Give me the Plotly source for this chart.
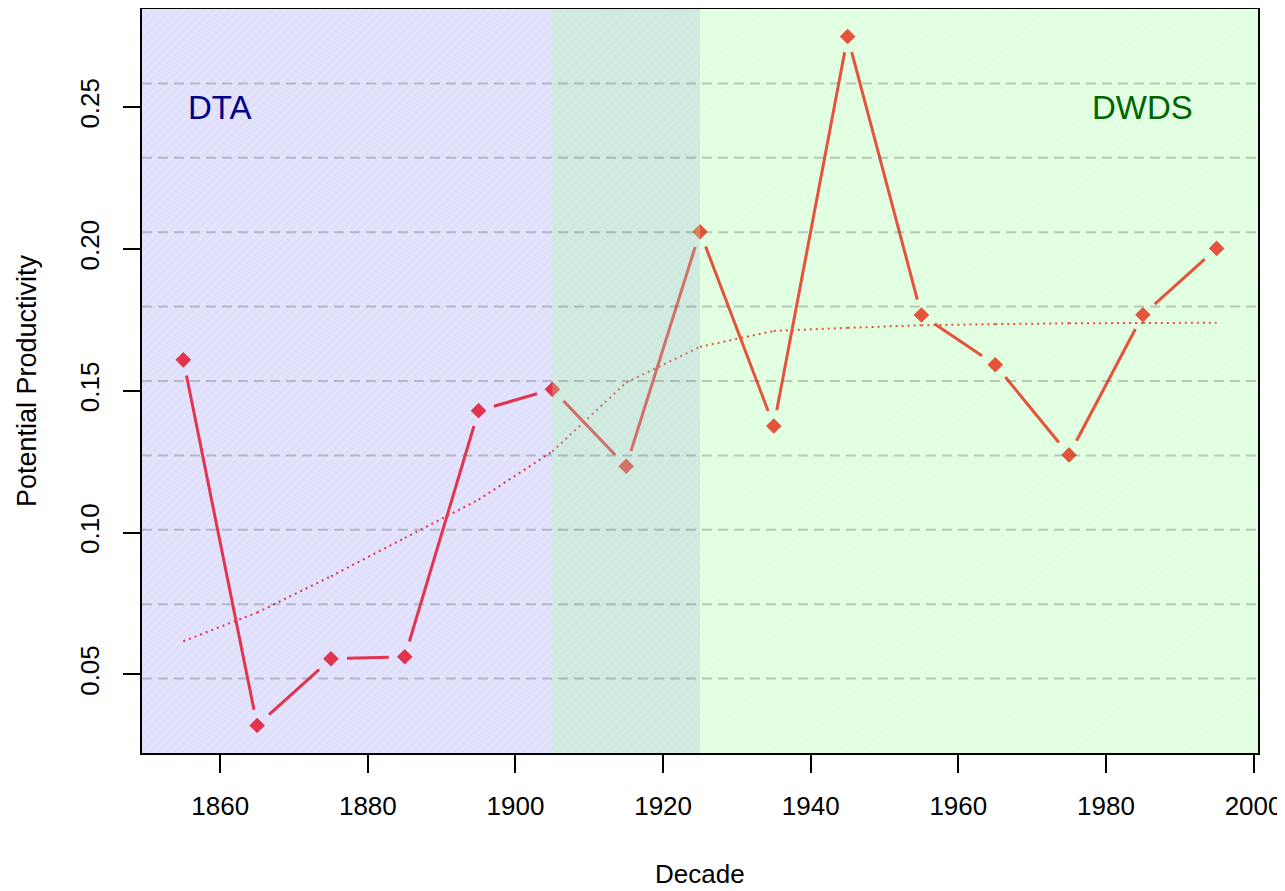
import plotly.graph_objects as go

# ---------------- data ----------------
decades = [1855, 1865, 1875, 1885, 1895, 1905, 1915, 1925, 1935, 1945, 1955, 1965, 1975, 1985, 1995]
productivity = [0.1609, 0.0320, 0.0555, 0.0562, 0.1430, 0.1505, 0.1234, 0.2061, 0.1376,
                0.2749, 0.1767, 0.1592, 0.1274, 0.1768, 0.2002]
trend = [0.0617, 0.0718, 0.0846, 0.0981, 0.1116, 0.1286, 0.1529, 0.1655, 0.1711,
         0.1722, 0.1731, 0.1735, 0.1738, 0.1739, 0.1740]
# colour group of each point / of the segment starting at it
group = ["DTA"] * 7 + ["DWDS"] * 8
x_ticks = [1860, 1880, 1900, 1920, 1940, 1960, 1980, 2000]
y_ticks = [0.05, 0.10, 0.15, 0.20, 0.25]
y_tick_labels = ["0.05", "0.10", "0.15", "0.20", "0.25"]
regions = {"DTA": (None, 1925), "DWDS": (1925, None)}
overlap = (1905, 1925)
corpus_labels = [("DTA", 1860, 0.25), ("DWDS", 1985, 0.25)]

# ---------------- style ----------------
# the page body adds an 8px margin, so the figure is placed at (8, 8)
W, H = 1277, 883
ML, MR, MT, MB = 134, 27, 1, 138
PW, PH = W - ML - MR, H - MT - MB
FONT = "Liberation Sans, Arial, sans-serif"
col = {"DTA": "#E2344F", "DWDS": "#E5533A"}
bg = {"DTA": "#E0E0FC", "DWDS": "#E0FFE0"}
label_col = {"DTA": "#00008B", "DWDS": "#006400"}

# R-style 4% axis padding
def pad(lo, hi):
    d = (hi - lo) * 0.04
    return [lo - d, hi + d]

xr = pad(min(decades), max(decades))
yr = pad(min(productivity), max(productivity))
sx = PW / (xr[1] - xr[0])
sy = PH / (yr[1] - yr[0])

fig = go.Figure()

# background regions with hatching
for name, (a, b) in regions.items():
    x0 = xr[0] if a is None else a
    x1 = xr[1] if b is None else b
    fig.add_trace(go.Scatter(
        x=[x0, x1, x1, x0, x0], y=[yr[0], yr[0], yr[1], yr[1], yr[0]],
        mode="lines", line=dict(width=0), fill="toself", fillcolor=bg[name],
        fillpattern=dict(shape="/", fgcolor="white", bgcolor=bg[name],
                         fgopacity=0.55, size=6, solidity=0.12),
        hoverinfo="skip", showlegend=False))

# trend (dotted) line
for g in col:
    xs, ys = [], []
    for i in range(len(decades) - 1):
        if group[i] == g:
            xs += [decades[i], decades[i + 1], None]
            ys += [trend[i], trend[i + 1], None]
    fig.add_trace(go.Scatter(x=xs, y=ys, mode="lines",
                             line=dict(color=col[g], width=2, dash="2px,4px"),
                             hoverinfo="skip", showlegend=False))

# type="b" lines: segments with gaps around points (gap in pixels)
GAP = 16
for g in col:
    xs, ys = [], []
    for i in range(len(decades) - 1):
        if group[i] != g:
            continue
        dxp = (decades[i + 1] - decades[i]) * sx
        dyp = (productivity[i + 1] - productivity[i]) * sy
        L = (dxp ** 2 + dyp ** 2) ** 0.5
        if L <= 2 * GAP:
            continue
        f = GAP / L
        xa = decades[i] + f * (decades[i + 1] - decades[i])
        ya = productivity[i] + f * (productivity[i + 1] - productivity[i])
        xb = decades[i + 1] - f * (decades[i + 1] - decades[i])
        yb = productivity[i + 1] - f * (productivity[i + 1] - productivity[i])
        xs += [xa, xb, None]
        ys += [ya, yb, None]
    fig.add_trace(go.Scatter(x=xs, y=ys, mode="lines",
                             line=dict(color=col[g], width=3),
                             hoverinfo="skip", showlegend=False))

# points
fig.add_trace(go.Scatter(x=decades, y=productivity, mode="markers",
                         marker=dict(symbol="diamond", size=12,
                                     color=[col[g] for g in group], line=dict(width=0)),
                         showlegend=False))

shapes = []
# overlap region drawn on top, semi-transparent
shapes.append(dict(type="rect", xref="x", yref="y", x0=overlap[0], x1=overlap[1],
                   y0=yr[0], y1=yr[1], fillcolor="rgba(170,255,160,0.3)",
                   line=dict(width=0), layer="above"))
# dashed horizontal grid (10 equal parts)
for k in range(1, 10):
    shapes.append(dict(type="line", xref="paper", yref="paper", x0=0, x1=1,
                       y0=k / 10, y1=k / 10, layer="above",
                       line=dict(color="rgba(100,100,100,0.35)", width=2, dash="10px,6px")))

annotations = []
for name, x, y in corpus_labels:
    annotations.append(dict(x=x, y=y, xref="x", yref="y", text=name, showarrow=False,
                            font=dict(family=FONT, size=33, color=label_col[name]),
                            xanchor="center", yanchor="middle"))
annotations.append(dict(x=0.5, y=-121 / PH, xref="paper", yref="paper",
                        text="Decade", showarrow=False, xanchor="center", yanchor="middle",
                        font=dict(family=FONT, size=26, color="black")))
annotations.append(dict(x=(19 - ML) / PW, y=0.5, xref="paper", yref="paper",
                        text="Potential Productivity", textangle=-90, showarrow=False,
                        xanchor="center", yanchor="middle",
                        font=dict(family=FONT, size=27, color="black")))

fig.update_layout(
    width=W, height=H, margin=dict(l=ML, r=MR, t=MT, b=MB, pad=0),
    paper_bgcolor="white", plot_bgcolor="white",
    font=dict(family=FONT, size=26, color="black"),
    shapes=shapes, annotations=annotations, showlegend=False,
)
fig.update_xaxes(range=xr, tickvals=x_ticks, ticks="outside", ticklen=18, tickwidth=2,
                 tickcolor="black", showgrid=False, zeroline=False, showline=True,
                 linecolor="black", linewidth=2, mirror=True, ticklabelstandoff=11,
                 ticklabeloverflow="allow", automargin=False,
                 tickfont=dict(family=FONT, size=26))
fig.update_yaxes(range=yr, tickvals=y_ticks, ticktext=y_tick_labels, ticks="outside",
                 ticklen=17, tickwidth=2, tickcolor="black", showgrid=False, zeroline=False,
                 showline=True, linecolor="black", linewidth=2, mirror=True,
                 tickangle=-90, ticklabelstandoff=14, automargin=False,
                 tickfont=dict(family=FONT, size=26))

fig.write_html("out.html")
